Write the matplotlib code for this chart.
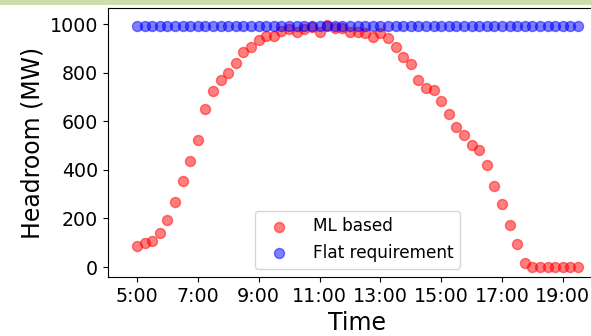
import matplotlib
matplotlib.use("Agg")
import matplotlib.pyplot as plt
from matplotlib.patches import Rectangle
from matplotlib.lines import Line2D

# Time in hours, 5:00 to 19:30 every 15 minutes
hours = [5 + 0.25 * i for i in range(59)]
ml_based = [86, 99, 107, 140, 193, 267, 354, 436, 523, 650,
            726, 768, 800, 838, 885, 907, 933, 951, 950, 972,
            980, 967, 979, 988, 967, 995, 983, 983, 967, 967,
            963, 947, 963, 942, 907, 864, 835, 770, 737, 728,
            683, 630, 577, 545, 502, 481, 418, 332, 259, 171,
            95, 17, 0, 0, 0, 0, 0, 0, 0]
flat_req = [990] * 59
tick_hours = [5, 7, 9, 11, 13, 15, 17, 19]
tick_labels = ["5:00", "7:00", "9:00", "11:00", "13:00", "15:00", "17:00", "19:00"]

fig = plt.figure(figsize=(5.92, 3.36), dpi=100)
ax = fig.add_axes([108 / 592, 1 - 277 / 336, (607 - 108) / 592, (277 - 8) / 336])

ax.scatter(hours, ml_based, s=52, color="red", alpha=0.5, label="ML based", zorder=2)
ax.scatter(hours, flat_req, s=52, color="blue", alpha=0.5, label="Flat requirement", zorder=2)

ax.set_xlim(4.047, 20.45)
ax.set_ylim(-41, 1066)
ax.set_xticks(tick_hours)
ax.set_xticklabels(tick_labels)
ax.set_yticks([0, 200, 400, 600, 800, 1000])
ax.tick_params(labelsize=13.7)
ax.set_xlabel("Time", fontsize=17)
ax.set_ylabel("Headroom (MW)", fontsize=17)
ax.legend(loc="lower center", fontsize=12.2, borderaxespad=0.5, handletextpad=1.0)

# top decorative strip and faint right border from the source page
fig.patches.append(Rectangle((0, 1 - 5 / 336), 1, 5 / 336, transform=fig.transFigure,
                             facecolor="#cfdcab", edgecolor="none", zorder=5))
fig.lines.append(Line2D([590.5 / 592, 590.5 / 592], [0, 1 - 5 / 336], transform=fig.transFigure,
                        color="#dddddd", linewidth=0.8, zorder=5))

fig.savefig("out.png", dpi=100)
